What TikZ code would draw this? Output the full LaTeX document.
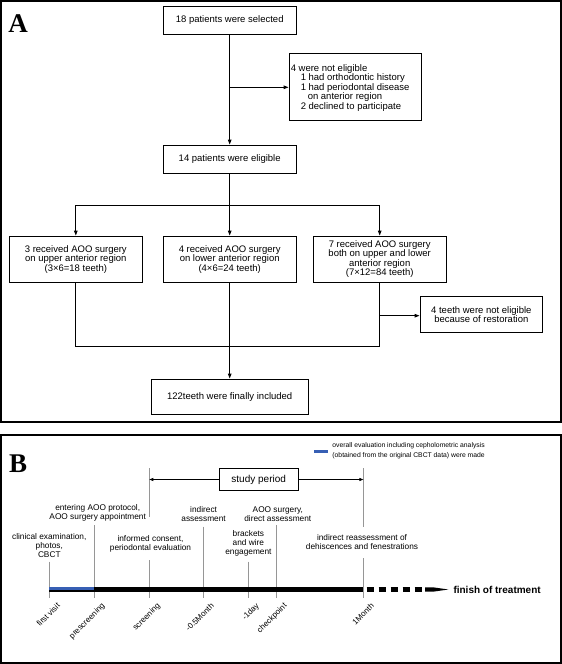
\documentclass[tikz,border=0pt]{standalone}
\usepackage{fontspec}
\setmainfont{Liberation Sans}
\newfontfamily\lserif{Liberation Serif}
\usetikzlibrary{arrows.meta}
\definecolor{tickgray}{RGB}{150,150,150}
\definecolor{legblue}{RGB}{55,95,180}
\begin{document}
\begin{tikzpicture}[x=1pt,y=-1pt,
  frame/.style={draw, line width=1.8pt},
  box/.style={draw, line width=0.9pt, inner sep=0pt, align=center, font=\fontsize{9.5}{9.5}\selectfont},
  conn/.style={line width=0.9pt},
  arr/.style={conn, -{Triangle[length=5pt,width=3.6pt]}},
  sarr/.style={line width=0.8pt, -{Triangle[length=4pt,width=3pt]}},
  btxt/.style={font=\fontsize{8.3}{9}\selectfont, align=center, inner sep=0pt},
  tickl/.style={draw=tickgray, line width=0.9pt},
  rlab/.style={font=\fontsize{8}{9}\selectfont, rotate=45, anchor=north east, inner sep=0pt},
  panellabel/.style={font=\lserif\bfseries\fontsize{27}{27}\selectfont, anchor=south west, inner sep=0pt},
]
\useasboundingbox (0,0) rectangle (562,664);
\fill[white] (0,0) rectangle (562,664);

% ---------------- Panel A ----------------
\draw[frame] (1,1) rectangle (561,421.7);
\node[panellabel] (lblA) at (8.3,32.3) {A};

\node[box, minimum width=132.6pt, minimum height=27.6pt] (b1) at (229.7,20.5) {18 patients were selected};
\node[box, minimum width=132.6pt, minimum height=28.3pt] (b2) at (229.7,159.2) {14 patients were eligible};
\node[box, minimum width=132.5pt, minimum height=67.4pt] (ne) at (355.25,87) {};
\node[anchor=west, align=left, inner sep=0pt, font=\fontsize{9.5}{9.6}\selectfont] (netxt) at ([xshift=2pt,yshift=-0.9pt]ne.west)
  {4 were not eligible\\
   \hspace*{10pt}1 had orthodontic history\\
   \hspace*{10pt}1 had periodontal disease\\
   \hspace*{17pt}on anterior region\\
   \hspace*{10pt}2 declined to participate};

\draw[arr] (b1.south) -- (b2.north);
\coordinate (br1) at (229.7,87.3);
\draw[arr] (br1) -- (br1 -| ne.west);

\node[box, minimum width=133pt, minimum height=46.3pt] (b3) at (75.8,259.2)
  {3 received AOO surgery\\on upper anterior region\\(3×6=18 teeth)};
\node[box, minimum width=133.3pt, minimum height=46.3pt] (b4) at (229.7,259.2)
  {4 received AOO surgery\\on lower anterior region\\(4×6=24 teeth)};
\node[box, minimum width=132.9pt, minimum height=46.3pt] (b5) at (379.7,259.2)
  {7 received AOO surgery\\both on upper and lower\\anterior region\\(7×12=84 teeth)};

\coordinate (h1) at (229.7,205);
\draw[conn] (b2.south) -- (h1);
\draw[conn] (b3.north |- h1) -- (b5.north |- h1);
\draw[arr] (b3.north |- h1) -- (b3.north);
\draw[arr] (h1) -- (b4.north);
\draw[arr] (b5.north |- h1) -- (b5.north);

\node[box, minimum width=122.7pt, minimum height=35.3pt] (nt) at (481.35,314.35)
  {4 teeth were not eligible\\because of restoration};
\node[box, minimum width=157pt, minimum height=35.3pt] (fin) at (229.7,396.65)
  {122teeth were finally included};

\coordinate (h2) at (229.7,346.7);
\draw[conn] (b3.south) -- (b3.south |- h2) -- (b5.south |- h2) -- (b5.south);
\draw[conn] (b4.south) -- (h2);
\draw[arr] (h2) -- (fin.north);
\coordinate (br2) at (379.7,315.7);
\draw[arr] (br2) -- (br2 -| nt.west);

% ---------------- Panel B ----------------
\draw[frame] (1,435) rectangle (561,662.7);
\node[panellabel] (lblB) at (9,472.7) {B};

% legend
\coordinate (lg1) at (314,451.3);
\coordinate (lg2) at (328.3,451.3);
\draw[legblue, line width=2.6pt] (lg1) -- (lg2);
\node[font=\fontsize{6.8}{9.6}\selectfont, align=center, inner sep=0pt] (legtxt) at (408.6,450.9)
  {overall evaluation including cepholometric analysis\\(obtained from the original CBCT data) were made};

% timeline points
\coordinate (t0) at (49.3,589.5);
\coordinate (t1) at (94,589.5);
\coordinate (t2) at (149.3,589.5);
\coordinate (t3) at (203.3,589.5);
\coordinate (t4) at (248.3,589.5);
\coordinate (t5) at (276,589.5);
\coordinate (t6) at (363.4,589.5);

% ticks
\draw[tickl] (49.3,561.7) -- (49.3,598.3);
\draw[tickl] (94,525) -- (94,598.3);
\draw[tickl] (149.3,468) -- (149.3,517);
\draw[tickl] (149.3,560) -- (149.3,598.3);
\draw[tickl] (203.3,526.7) -- (203.3,598.3);
\draw[tickl] (248.3,561.7) -- (248.3,598.3);
\draw[tickl] (276,525) -- (276,598.3);
\draw[tickl] (363.4,468) -- (363.4,526.7);
\draw[tickl] (363.4,558) -- (363.4,598.3);

% study period
\node[draw, line width=0.8pt, minimum width=79pt, minimum height=22.4pt, inner sep=0pt,
      font=\fontsize{10}{10}\selectfont] (sp) at (258.7,479.5) {study period};
\coordinate (spl) at (149.3,479.5);
\coordinate (spr) at (363.4,479.5);
\draw[sarr] (sp.west) -- (spl);
\draw[sarr] (sp.east) -- (spr);

% main line
\draw[line width=4.4pt] (t0) -- (t6);
\fill[legblue] (49.3,587.3) rectangle (94,589.5);
\draw[line width=4.4pt, dash pattern=on 7.3pt off 4.7pt] (366.7,589.5) -- (422,589.5);
\coordinate (tend) at (448.3,589.5);
\fill (425,587.3) -- (433,587.3) -- (tend) -- (433,591.7) -- (425,591.7) -- cycle;
\node[anchor=west, inner sep=0pt, font=\bfseries\fontsize{10}{10}\selectfont] (fot) at (453.3,590) {finish of treatment};

% texts above
\node[btxt] (tx0) at (49.3,546) {clinical examination,\\photos,\\CBCT};
\node[btxt] (tx1) at (97.7,513.2) {entering AOO protocol,\\AOO surgery appointment};
\node[btxt] (tx2) at (150.5,544) {informed consent,\\periodontal evaluation};
\node[btxt] (tx3) at (203.6,513.8) {indirect\\assessment};
\node[btxt] (tx4) at (277.8,513.8) {AOO surgery,\\direct assessment};
\node[btxt] (tx5) at (248.4,543.1) {brackets\\and wire\\engagement};
\node[btxt] (tx6) at (362,542.5) {indirect reassessment of\\dehiscences and fenestrations};

% rotated labels
\node[rlab] (l0) at (56.3,602) {first visit};
\node[rlab] (l1) at (101,602) {prescreening};
\node[rlab] (l2) at (156.3,602) {screening};
\node[rlab] (l3) at (210.3,602) {-0.5Month};
\node[rlab] (l4) at (255.3,602) {-1day};
\node[rlab] (l5) at (283,602) {checkpoint};
\node[rlab] (l6) at (370.4,602) {1Month};
\end{tikzpicture}
\end{document}
